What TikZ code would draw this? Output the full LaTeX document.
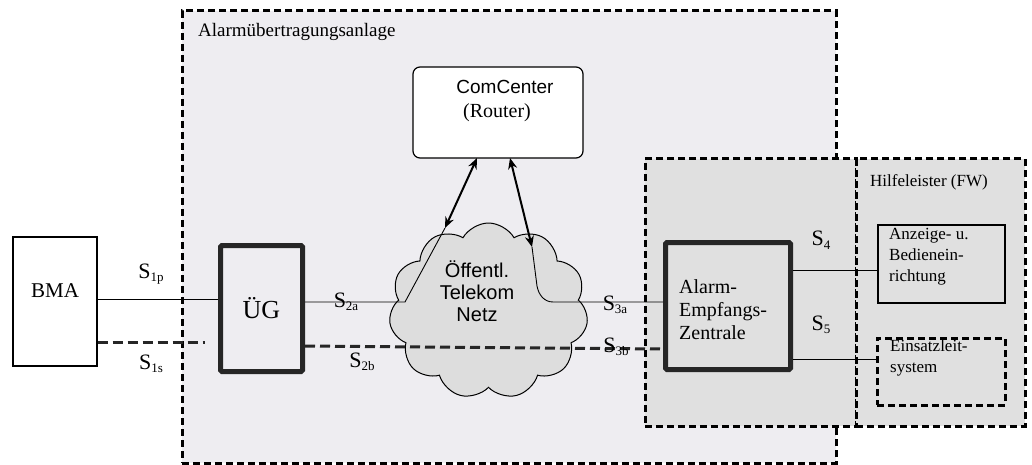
\documentclass[tikz,border=0pt]{standalone}
\usepackage{fontspec}
\setmainfont{Liberation Serif}
\newfontfamily\arialf{Liberation Sans}
\usetikzlibrary{shapes.symbols,arrows.meta}
\definecolor{outerbg}{RGB}{238,237,241}
\definecolor{innerbg}{RGB}{224,224,224}
\definecolor{cloudbg}{RGB}{221,221,221}
\newcommand\Ssub[1]{S\raisebox{-0.35ex}{\fontsize{13}{13}\selectfont #1}}
\newcommand\fsz[1]{\fontsize{#1}{#1}\selectfont}
\tikzset{
  region/.style={draw=black, line width=3, dash pattern=on 7 off 4, inner sep=0},
  thinline/.style={draw=black, line width=0.9},
  dashline/.style={draw=black!85, line width=3, dash pattern=on 10 off 5},
  thickbox/.style={draw=black!85, line width=5, rounded corners=1.5, inner sep=0},
  plainbox/.style={draw=black, line width=1.2, inner sep=0},
  dbl/.style={draw=black, line width=2, {Stealth[length=11,width=9]}-{Stealth[length=11,width=9]}},
  slabel/.style={font=\fsz{22}, inner sep=0}
}
\begin{document}
\begin{tikzpicture}[x=1pt,y=-1pt]
\useasboundingbox[fill=white] (0,0) rectangle (1032,465);
% regions
\node[region, fill=outerbg, minimum width=654, minimum height=452] (aua) at (509,237) {};
\node[region, fill=innerbg, minimum width=211, minimum height=267] (aezr) at (750.5,292.5) {};
\node[region, fill=innerbg, minimum width=169, minimum height=267] (fw) at (940.5,292.5) {};
\node[anchor=west, font=\fsz{19}, inner sep=0] (auatxt) at (198,32) {Alarmübertragungsanlage};
\node[anchor=west, font=\fsz{17}, inner sep=0] (fwtxt) at (870,182) {Hilfeleister (FW)};
% ComCenter
\node[plainbox, fill=white, rounded corners=7, minimum width=170, minimum height=91] (cc) at (498,112.5) {};
\node[font=\arialf\fsz{19}, inner sep=0] (cctxt) at (505,87) {ComCenter};
\node[font=\fsz{20}, inner sep=0] (rtxt) at (497,113) {(Router)};
% BMA and UG
\node[plainbox, fill=white, minimum width=84, minimum height=129,
      label={[font=\fsz{21}, yshift=11]center:BMA}] (bma) at (55,301.5) {};
\node[thickbox, fill=outerbg, minimum width=82, minimum height=126, font=\fsz{26}] (ug) at (261.5,308.5) {ÜG};
% cloud
\node[cloud, cloud puffs=11, cloud puff arc=120, aspect=1.13, draw=black, line width=1, fill=cloudbg,
      minimum width=199, minimum height=176, inner sep=0] (net) at (488.5,311) {};
\node[font=\arialf\fsz{20}, align=center, inner sep=0] (nettxt) at (477,291) {Öffentl.\\[2pt]Telekom\\[2pt]Netz};
% AEZ
\node[thickbox, fill=innerbg, minimum width=125, minimum height=127] (aez) at (728,306) {};
\node[anchor=west, align=left, font=\fontsize{20}{23}\selectfont, inner sep=0] (aeztxt) at (679,310) {Alarm-\\Empfangs-\\Zentrale};
% Hilfeleister boxes
\node[plainbox, fill=innerbg, minimum width=127, minimum height=78] (anz) at (941.5,264) {};
\node[anchor=north west, align=left, font=\fontsize{17}{21}\selectfont, inner sep=0] (anztxt) at (889,228) {Anzeige- u.\\Bedienein-\\richtung};
\node[region, fill=innerbg, minimum width=128, minimum height=67] (els) at (941,371.5) {};
\node[anchor=north west, align=left, font=\fontsize{17}{21}\selectfont, inner sep=0] (elstxt) at (890,340) {Einsatzleit-\\system};
% coordinates
\coordinate (s1p) at (97,299);
\coordinate (s1s) at (205,342);
\coordinate (c2a) at (405,302);
\coordinate (a1) at (445,228);
\coordinate (cc1) at (477,158);
\coordinate (cc2) at (510,158);
\coordinate (a2) at (532,247);
\coordinate (bend) at (537,286);
\coordinate (c3a) at (553,302);
\coordinate (s2b) at (305,346);
\coordinate (s3b) at (663,349);
\coordinate (s4) at (800,270);
\coordinate (s5) at (800,359);
% connectors
\draw[thinline] (bma.east |- s1p) -- (ug.west |- s1p);
\draw[dashline] (bma.east |- s1s) -- (s1s);
\draw[thinline] (ug.east |- c2a) -- (c2a) -- (a1);
\draw[dbl] (a1) -- (cc1);
\draw[dbl] (a2) -- (cc2);
\draw[thinline] (a2) -- (bend) to[out=-80,in=180] (c3a) -- (aez.west |- c3a);
\draw[dashline] (ug.east |- s2b) -- (aez.west |- s3b);
\draw[thinline] (aez.east |- s4) -- (anz.west |- s4);
\draw[thinline] (aez.east |- s5) -- (els.west |- s5);
% labels
\node[slabel] (l1p) at (151,274) {\Ssub{1p}};
\node[slabel] (l1s) at (151,364) {\Ssub{1s}};
\node[slabel] (l2a) at (346,302) {\Ssub{2a}};
\node[slabel] (l2b) at (362,362) {\Ssub{2b}};
\node[slabel] (l3a) at (615,305) {\Ssub{3a}};
\node[slabel] (l3b) at (616,347) {\Ssub{3b}};
\node[slabel] (l4) at (821,240) {\Ssub{4}};
\node[slabel] (l5) at (821,325) {\Ssub{5}};
\end{tikzpicture}
\end{document}
